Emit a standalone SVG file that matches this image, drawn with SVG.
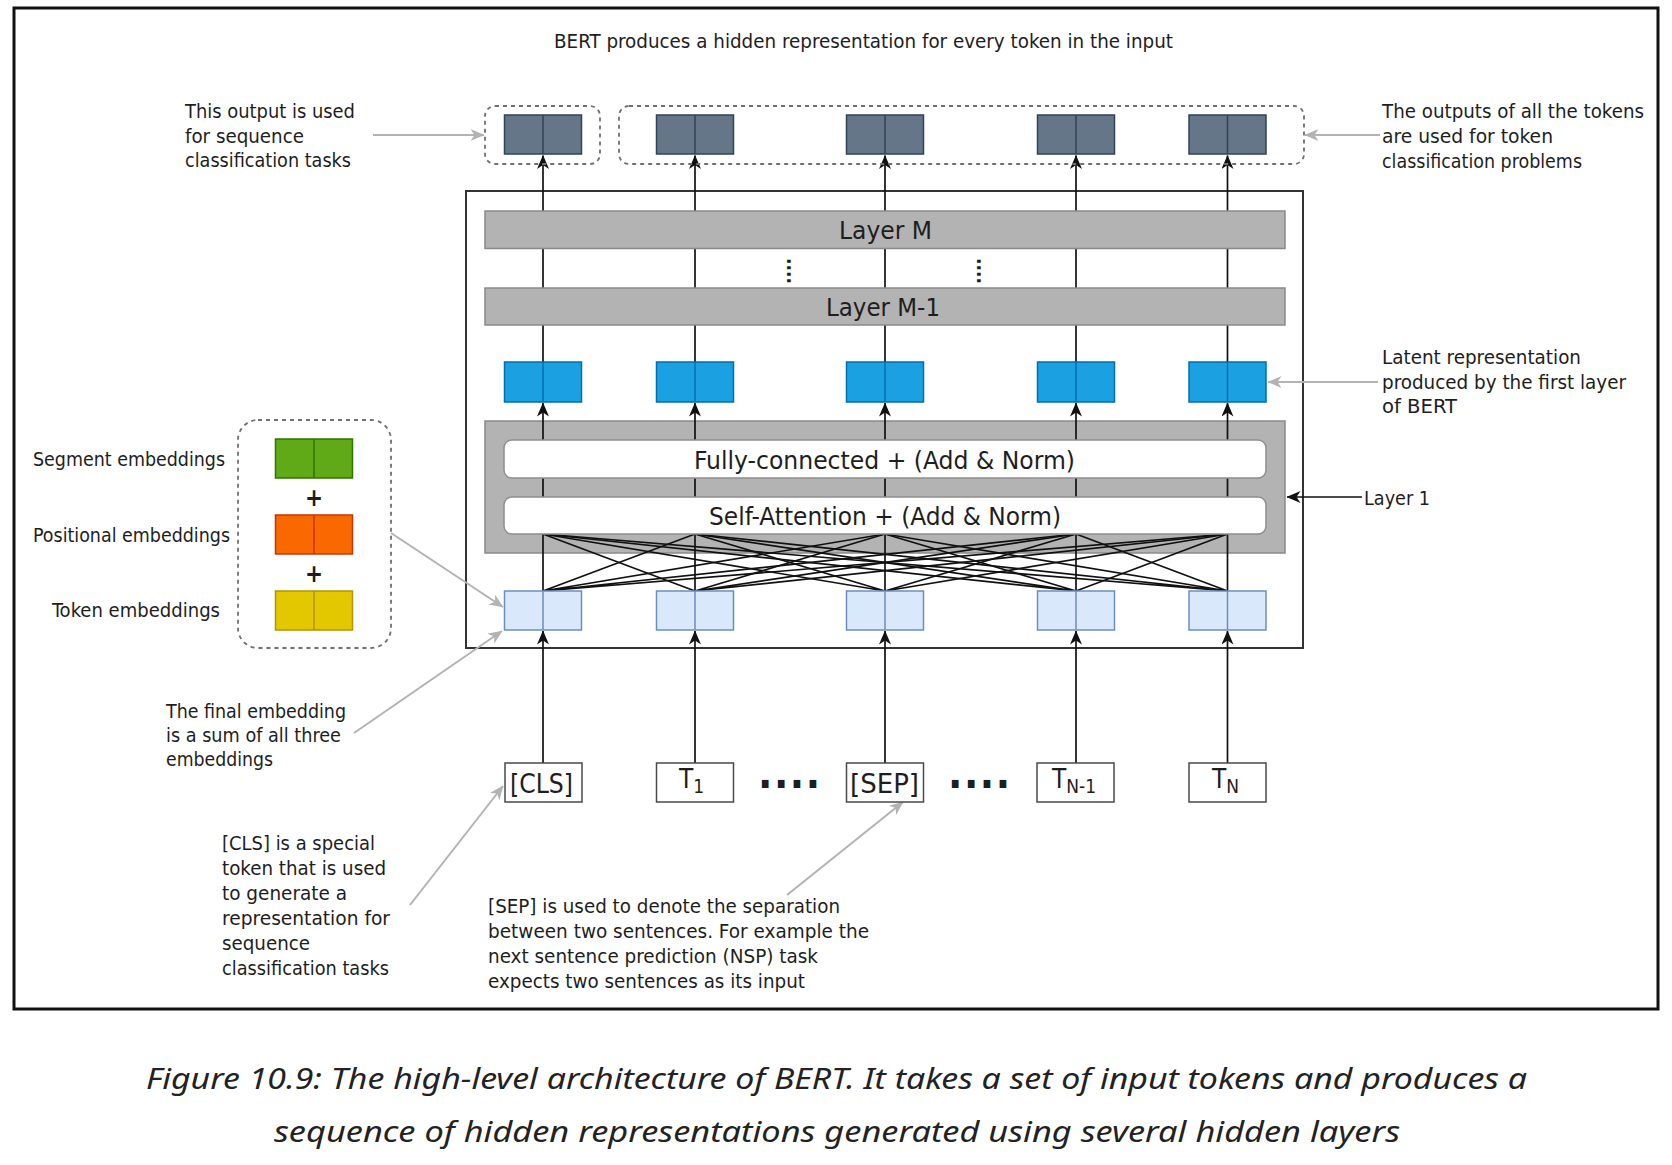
<svg xmlns="http://www.w3.org/2000/svg" width="1672" height="1165" viewBox="0 0 1672 1165">
<style>
.t{font-family:"DejaVu Sans Condensed","DejaVu Sans",sans-serif;fill:#1e1e1e;font-size:19px}
.lbl{font-family:"DejaVu Sans Condensed","DejaVu Sans",sans-serif;fill:#1e1e1e;font-size:25px}
.tok{font-family:"DejaVu Sans Condensed","DejaVu Sans",sans-serif;fill:#1e1e1e;font-size:27px}
.cap{font-family:"Noto Sans","Open Sans",sans-serif;font-style:italic;fill:#222;font-size:29px}
.dk{fill:#647687;stroke:#314354;stroke-width:1.5}
.bl{fill:#1ba1e2;stroke:#006eaf;stroke-width:1.5}
.lb{fill:#dae8fc;stroke:#6c8ebf;stroke-width:1.5}
.gr{fill:#60a917;stroke:#2d7600;stroke-width:1.5}
.or{fill:#fa6800;stroke:#c73500;stroke-width:1.5}
.ye{fill:#e3c800;stroke:#b09500;stroke-width:1.5}
.bar{fill:#b3b3b3;stroke:#8a8a8a;stroke-width:1.5}
.wb{fill:#ffffff;stroke:#8f8f8f;stroke-width:1.5}
.tb{fill:#ffffff;stroke:#4a4a4a;stroke-width:1.5}
.dash{fill:none;stroke:#707070;stroke-width:1.8;stroke-dasharray:4 4}
.k{stroke:#111;stroke-width:1.7;fill:none}
.g{stroke:#b3b3b3;stroke-width:2;fill:none}
.dv{stroke-width:1.5}
</style>
<defs>
<marker id="ak" viewBox="0 0 14 12" refX="13.5" refY="6" markerWidth="14" markerHeight="12" markerUnits="userSpaceOnUse" orient="auto"><path d="M0,0 L14,6 L0,12 L4,6 Z" fill="#111"/></marker>
<marker id="ag" viewBox="0 0 14 12" refX="13.5" refY="6" markerWidth="14" markerHeight="12" markerUnits="userSpaceOnUse" orient="auto"><path d="M0,0 L14,6 L0,12 L4,6 Z" fill="#b3b3b3"/></marker>
</defs>
<rect x="0" y="0" width="1672" height="1165" fill="#ffffff"/>
<rect id="border" x="14" y="8" width="1644" height="1001" fill="none" stroke="#111" stroke-width="3"/>

<g id="title"><text class="t" x="554" y="48" textLength="619" lengthAdjust="spacingAndGlyphs">BERT produces a hidden representation for every token in the input</text></g>

<g id="bert-frame"><rect x="466" y="191" width="837" height="457" fill="none" stroke="#333" stroke-width="2"/></g>
<g id="layer1-block"><rect class="bar" x="485" y="421" width="800" height="132"/></g>

<g id="connectors">
<g class="k">
<path d="M543,591 L695,534 M543,591 L885,534 M543,591 L1076,534 M543,591 L1227.5,534"/>
<path d="M695,591 L543,534 M695,591 L885,534 M695,591 L1076,534 M695,591 L1227.5,534"/>
<path d="M885,591 L543,534 M885,591 L695,534 M885,591 L1076,534 M885,591 L1227.5,534"/>
<path d="M1076,591 L543,534 M1076,591 L695,534 M1076,591 L885,534 M1076,591 L1227.5,534"/>
<path d="M1227.5,591 L543,534 M1227.5,591 L695,534 M1227.5,591 L885,534 M1227.5,591 L1076,534"/>
<path d="M543,763 L543,631" marker-end="url(#ak)"/><path d="M543,591 L543,403" marker-end="url(#ak)"/><path d="M543,362 L543,155.5" marker-end="url(#ak)"/>
<path d="M695,763 L695,631" marker-end="url(#ak)"/><path d="M695,591 L695,403" marker-end="url(#ak)"/><path d="M695,362 L695,155.5" marker-end="url(#ak)"/>
<path d="M885,763 L885,631" marker-end="url(#ak)"/><path d="M885,591 L885,403" marker-end="url(#ak)"/><path d="M885,362 L885,155.5" marker-end="url(#ak)"/>
<path d="M1076,763 L1076,631" marker-end="url(#ak)"/><path d="M1076,591 L1076,403" marker-end="url(#ak)"/><path d="M1076,362 L1076,155.5" marker-end="url(#ak)"/>
<path d="M1227.5,763 L1227.5,631" marker-end="url(#ak)"/><path d="M1227.5,591 L1227.5,403" marker-end="url(#ak)"/><path d="M1227.5,362 L1227.5,155.5" marker-end="url(#ak)"/>
<path d="M1362,497 L1287,497" marker-end="url(#ak)"/>
</g>
<g class="g">
<path d="M373,135 L484,135" marker-end="url(#ag)"/>
<path d="M1380,135 L1305,135" marker-end="url(#ag)"/>
<path d="M1378,382 L1268,382" marker-end="url(#ag)"/>
<path d="M391,533 L503,607" marker-end="url(#ag)"/>
<path d="M354,733 L502,631" marker-end="url(#ag)"/>
<path d="M410,905 L503,786" marker-end="url(#ag)"/>
<path d="M787,895 L903,802" marker-end="url(#ag)"/>
</g>
</g>

<g id="layer-m"><rect class="bar" x="485" y="211" width="800" height="37.5"/><text class="lbl" x="839" y="239" textLength="93" lengthAdjust="spacingAndGlyphs">Layer M</text></g>
<g id="layer-dots"><text class="t" style="font-size:19px;font-weight:bold" transform="translate(787,258) rotate(90)">....</text><text class="t" style="font-size:19px;font-weight:bold" transform="translate(977,258) rotate(90)">....</text></g>
<g id="layer-m-1"><rect class="bar" x="485" y="288" width="800" height="37"/><text class="lbl" x="826" y="316" textLength="114" lengthAdjust="spacingAndGlyphs">Layer M-1</text></g>
<g id="fully-connected"><rect class="wb" x="504" y="440" width="762" height="38" rx="8"/><text class="lbl" x="694" y="468.5" textLength="381" lengthAdjust="spacingAndGlyphs">Fully-connected + (Add &amp; Norm)</text></g>
<g id="self-attention"><rect class="wb" x="504" y="497" width="762" height="37" rx="8"/><text class="lbl" x="709" y="525" textLength="352" lengthAdjust="spacingAndGlyphs">Self-Attention + (Add &amp; Norm)</text></g>

<g id="output-group-cls"><rect class="dash" x="485" y="106" width="115" height="58" rx="10"/></g>
<g id="output-group-tokens"><rect class="dash" x="619" y="106" width="685" height="58" rx="10"/></g>
<g id="out-cls"><rect class="dk" x="504.5" y="115" width="77" height="39"/><line class="dv" x1="543" y1="115" x2="543" y2="154" stroke="#314354"/></g>
<g id="out-t1"><rect class="dk" x="656.5" y="115" width="77" height="39"/><line class="dv" x1="695" y1="115" x2="695" y2="154" stroke="#314354"/></g>
<g id="out-sep"><rect class="dk" x="846.5" y="115" width="77" height="39"/><line class="dv" x1="885" y1="115" x2="885" y2="154" stroke="#314354"/></g>
<g id="out-tn-1"><rect class="dk" x="1037.5" y="115" width="77" height="39"/><line class="dv" x1="1076" y1="115" x2="1076" y2="154" stroke="#314354"/></g>
<g id="out-tn"><rect class="dk" x="1189" y="115" width="77" height="39"/><line class="dv" x1="1227.5" y1="115" x2="1227.5" y2="154" stroke="#314354"/></g>

<g id="lat-cls"><rect class="bl" x="504.5" y="362" width="77" height="40"/><line class="dv" x1="543" y1="362" x2="543" y2="402" stroke="#006eaf"/></g>
<g id="lat-t1"><rect class="bl" x="656.5" y="362" width="77" height="40"/><line class="dv" x1="695" y1="362" x2="695" y2="402" stroke="#006eaf"/></g>
<g id="lat-sep"><rect class="bl" x="846.5" y="362" width="77" height="40"/><line class="dv" x1="885" y1="362" x2="885" y2="402" stroke="#006eaf"/></g>
<g id="lat-tn-1"><rect class="bl" x="1037.5" y="362" width="77" height="40"/><line class="dv" x1="1076" y1="362" x2="1076" y2="402" stroke="#006eaf"/></g>
<g id="lat-tn"><rect class="bl" x="1189" y="362" width="77" height="40"/><line class="dv" x1="1227.5" y1="362" x2="1227.5" y2="402" stroke="#006eaf"/></g>

<g id="emb-cls"><rect class="lb" x="504.5" y="591" width="77" height="39"/><line class="dv" x1="543" y1="591" x2="543" y2="630" stroke="#6c8ebf"/></g>
<g id="emb-t1"><rect class="lb" x="656.5" y="591" width="77" height="39"/><line class="dv" x1="695" y1="591" x2="695" y2="630" stroke="#6c8ebf"/></g>
<g id="emb-sep"><rect class="lb" x="846.5" y="591" width="77" height="39"/><line class="dv" x1="885" y1="591" x2="885" y2="630" stroke="#6c8ebf"/></g>
<g id="emb-tn-1"><rect class="lb" x="1037.5" y="591" width="77" height="39"/><line class="dv" x1="1076" y1="591" x2="1076" y2="630" stroke="#6c8ebf"/></g>
<g id="emb-tn"><rect class="lb" x="1189" y="591" width="77" height="39"/><line class="dv" x1="1227.5" y1="591" x2="1227.5" y2="630" stroke="#6c8ebf"/></g>

<g id="tok-cls"><rect class="tb" x="505" y="763" width="77" height="39"/><text class="tok" x="510" y="793" textLength="63" lengthAdjust="spacingAndGlyphs">[CLS]</text></g>
<g id="tok-t1"><rect class="tb" x="656.5" y="763" width="77" height="39"/><text class="tok" style="font-size:26px" x="679" y="788">T<tspan style="font-size:19px" dy="5">1</tspan></text></g>
<g id="tok-sep"><rect class="tb" x="846.5" y="763" width="77" height="39"/><text class="tok" x="850" y="793" textLength="69" lengthAdjust="spacingAndGlyphs">[SEP]</text></g>
<g id="tok-tn-1"><rect class="tb" x="1037" y="763" width="77" height="39"/><text class="tok" style="font-size:26px" x="1052" y="788">T<tspan style="font-size:19px" dy="5">N-1</tspan></text></g>
<g id="tok-tn"><rect class="tb" x="1189" y="763" width="77" height="39"/><text class="tok" style="font-size:26px" x="1212" y="788">T<tspan style="font-size:19px" dy="5">N</tspan></text></g>
<g id="ellipsis-1"><text class="tok" style="font-size:42px;font-weight:bold" x="758" y="788" textLength="62" lengthAdjust="spacing">....</text></g>
<g id="ellipsis-2"><text class="tok" style="font-size:42px;font-weight:bold" x="948" y="788" textLength="62" lengthAdjust="spacing">....</text></g>

<g id="embedding-group"><rect class="dash" x="238" y="420" width="153" height="228" rx="20"/>
<rect class="gr" x="275.5" y="439" width="77" height="39"/><line class="dv" x1="314" y1="439" x2="314" y2="478" stroke="#2d7600"/>
<text class="lbl" style="font-size:24px;font-weight:bold" x="314" y="506" text-anchor="middle">+</text>
<rect class="or" x="275.5" y="515" width="77" height="39"/><line class="dv" x1="314" y1="515" x2="314" y2="554" stroke="#c73500"/>
<text class="lbl" style="font-size:24px;font-weight:bold" x="314" y="582" text-anchor="middle">+</text>
<rect class="ye" x="275.5" y="591" width="77" height="39"/><line class="dv" x1="314" y1="591" x2="314" y2="630" stroke="#b09500"/>
</g>
<g id="emb-labels">
<text class="t" x="33" y="466" textLength="192" lengthAdjust="spacingAndGlyphs">Segment embeddings</text>
<text class="t" x="33" y="542" textLength="197" lengthAdjust="spacingAndGlyphs">Positional embeddings</text>
<text class="t" x="52" y="617" textLength="168" lengthAdjust="spacingAndGlyphs">Token embeddings</text>
</g>

<g id="note-cls-output">
<text class="t" x="185" y="118" textLength="170" lengthAdjust="spacingAndGlyphs">This output is used</text>
<text class="t" x="185" y="143" textLength="119" lengthAdjust="spacingAndGlyphs">for sequence</text>
<text class="t" x="185" y="167" textLength="166" lengthAdjust="spacingAndGlyphs">classification tasks</text>
</g>
<g id="note-token-outputs">
<text class="t" x="1382" y="118" textLength="262" lengthAdjust="spacingAndGlyphs">The outputs of all the tokens</text>
<text class="t" x="1382" y="143" textLength="171" lengthAdjust="spacingAndGlyphs">are used for token</text>
<text class="t" x="1382" y="168" textLength="200" lengthAdjust="spacingAndGlyphs">classification problems</text>
</g>
<g id="note-latent">
<text class="t" x="1382" y="364" textLength="199" lengthAdjust="spacingAndGlyphs">Latent representation</text>
<text class="t" x="1382" y="389" textLength="244" lengthAdjust="spacingAndGlyphs">produced by the first layer</text>
<text class="t" x="1382" y="413" textLength="75" lengthAdjust="spacingAndGlyphs">of BERT</text>
</g>
<g id="note-layer1"><text class="t" x="1364" y="505" textLength="66" lengthAdjust="spacingAndGlyphs">Layer 1</text></g>
<g id="note-final-embedding">
<text class="t" x="166" y="718" textLength="180" lengthAdjust="spacingAndGlyphs">The final embedding</text>
<text class="t" x="166" y="742" textLength="175" lengthAdjust="spacingAndGlyphs">is a sum of all three</text>
<text class="t" x="166" y="766" textLength="107" lengthAdjust="spacingAndGlyphs">embeddings</text>
</g>
<g id="note-cls">
<text class="t" x="222" y="850" textLength="153" lengthAdjust="spacingAndGlyphs">[CLS] is a special</text>
<text class="t" x="222" y="875" textLength="164" lengthAdjust="spacingAndGlyphs">token that is used</text>
<text class="t" x="222" y="900" textLength="125" lengthAdjust="spacingAndGlyphs">to generate a</text>
<text class="t" x="222" y="925" textLength="168" lengthAdjust="spacingAndGlyphs">representation for</text>
<text class="t" x="222" y="950" textLength="88" lengthAdjust="spacingAndGlyphs">sequence</text>
<text class="t" x="222" y="975" textLength="167" lengthAdjust="spacingAndGlyphs">classification tasks</text>
</g>
<g id="note-sep">
<text class="t" x="488" y="913" textLength="352" lengthAdjust="spacingAndGlyphs">[SEP] is used to denote the separation</text>
<text class="t" x="488" y="938" textLength="381" lengthAdjust="spacingAndGlyphs">between two sentences. For example the</text>
<text class="t" x="488" y="963" textLength="330" lengthAdjust="spacingAndGlyphs">next sentence prediction (NSP) task</text>
<text class="t" x="488" y="988" textLength="317" lengthAdjust="spacingAndGlyphs">expects two sentences as its input</text>
</g>

<g id="caption">
<text class="cap" x="146" y="1089" textLength="1381" lengthAdjust="spacingAndGlyphs">Figure 10.9: The high-level architecture of BERT. It takes a set of input tokens and produces a</text>
<text class="cap" x="274" y="1142" textLength="1126" lengthAdjust="spacingAndGlyphs">sequence of hidden representations generated using several hidden layers</text>
</g>
</svg>
